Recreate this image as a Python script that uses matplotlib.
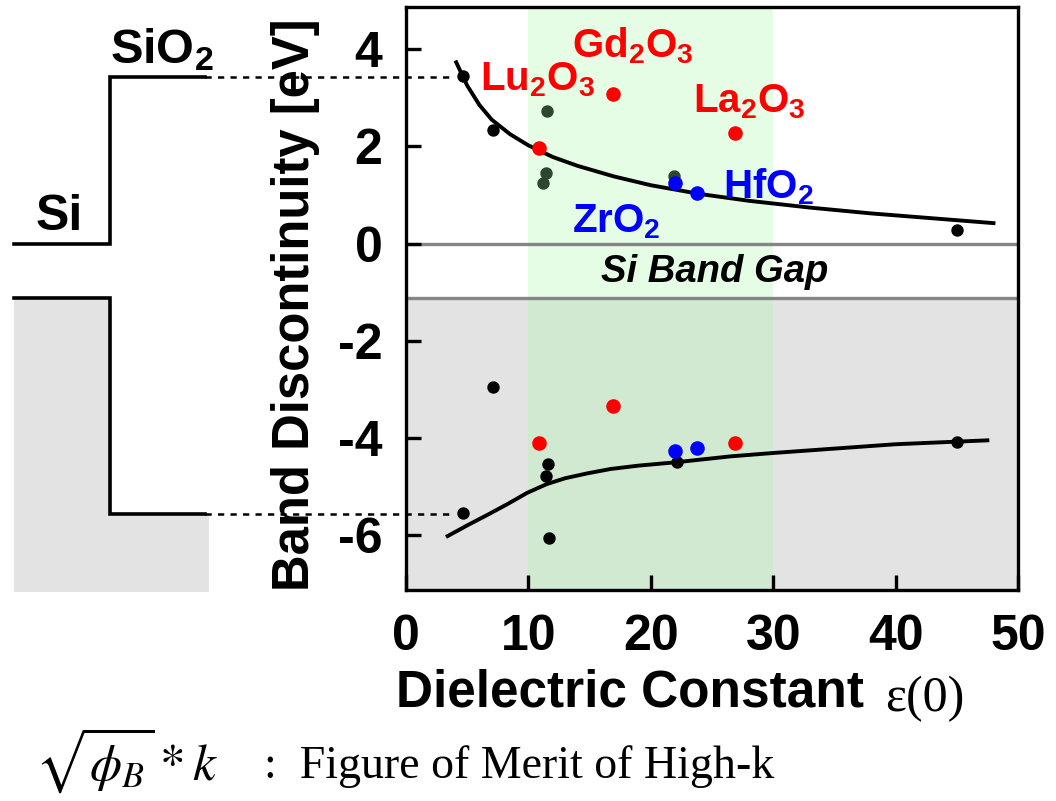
import matplotlib
matplotlib.use("Agg")
import matplotlib.pyplot as plt

plt.rcParams["font.family"] = ["Liberation Sans", "DejaVu Sans"]
plt.rcParams["axes.unicode_minus"] = False
plt.rcParams["mathtext.fontset"] = "custom"
plt.rcParams["mathtext.rm"] = "Liberation Sans:bold"
plt.rcParams["mathtext.it"] = "Liberation Sans:bold:italic"
plt.rcParams["mathtext.bf"] = "Liberation Sans:bold"

# ── data ─────────────────────────────────────────────────────────────────────
# conduction-band offsets
cb_black_eps = [4.66, 7.1, 45.0]
cb_black_off = [3.45, 2.33, 0.28]
cb_dark_eps = [11.5, 11.45, 11.2, 21.9]
cb_dark_off = [2.73, 1.45, 1.24, 1.39]
# valence-band offsets
vb_black_eps = [4.66, 7.1, 11.6, 11.45, 11.7, 22.1, 45.0]
vb_black_off = [-5.55, -2.95, -4.54, -4.78, -6.06, -4.49, -4.09]
# rare-earth oxides (Lu2O3, Gd2O3, La2O3)
red_eps = [10.9, 16.9, 26.9]
red_cb = [1.96, 3.07, 2.27]
red_vb = [-4.11, -3.34, -4.11]
# ZrO2, HfO2
blue_eps = [22.0, 23.8]
blue_cb = [1.25, 1.04]
blue_vb = [-4.27, -4.21]
# guide curves
cb_curve_eps = [4.1, 5.0, 6.0, 7.0, 8.5, 10.0, 12.0, 14.0, 17.0, 20.0, 24.0,
                28.0, 33.0, 38.0, 43.0, 48.0]
cb_curve = [3.73, 3.25, 2.85, 2.55, 2.25, 2.02, 1.78, 1.60, 1.38, 1.20, 1.02,
            0.88, 0.74, 0.62, 0.52, 0.42]
vb_curve_eps = [3.4, 5.0, 6.6, 8.3, 9.9, 11.5, 13.0, 14.8, 16.7, 19.0, 22.1,
                26.5, 30.0, 35.0, 40.0, 47.5]
vb_curve = [-6.02, -5.80, -5.59, -5.36, -5.13, -4.95, -4.83, -4.73, -4.64,
            -4.57, -4.50, -4.38, -4.31, -4.22, -4.13, -4.05]

SI_GAP = 1.12
SIO2_CB, SIO2_VB = 3.42, -5.57
YLIM = (-7.13, 4.87)
B = "bold"

fig = plt.figure(figsize=(10.56, 8.01), dpi=100)
ax = fig.add_axes([0.3845, 0.2634, 0.5795, 0.728])
ax.set_xlim(0, 50)
ax.set_ylim(*YLIM)

# background regions
ax.axhspan(YLIM[0], -SI_GAP, color="#E3E3E3", lw=0, zorder=0)
ax.axvspan(10, 30, color=(0.66, 0.96, 0.66), alpha=0.29, lw=0, zorder=0.5)
ax.axhline(0, color="#858585", lw=2.4, zorder=1)
ax.axhline(-SI_GAP, color="#858585", lw=2.4, zorder=1)
ax.text(25.2, -0.58, "Si Band Gap", fontsize=27.5, style="italic", weight=B,
        ha="center", va="center", zorder=3)

# curves
ax.plot(cb_curve_eps, cb_curve, color="black", lw=2.8, zorder=2)
ax.plot(vb_curve_eps, vb_curve, color="black", lw=2.8, zorder=2)

# points
ax.scatter(cb_black_eps, cb_black_off, s=80, color="black", zorder=3, lw=0)
ax.scatter(cb_dark_eps, cb_dark_off, s=80, color="#2C4630", zorder=3, lw=0)
ax.scatter(vb_black_eps, vb_black_off, s=80, color="black", zorder=3, lw=0)
ax.scatter(red_eps, red_cb, s=110, color="#FF0000", zorder=4, lw=0)
ax.scatter(red_eps, red_vb, s=110, color="#FF0000", zorder=4, lw=0)
ax.scatter(blue_eps, blue_cb, s=110, color="#0000FF", zorder=4, lw=0)
ax.scatter(blue_eps, blue_vb, s=110, color="#0000FF", zorder=4, lw=0)

# material labels
lab = dict(fontsize=29, weight=B, va="baseline", ha="left", zorder=5)
ax.text(6.05, 3.16, "Lu$_2$O$_3$", color="#FF0000", **lab)
ax.text(13.6, 3.84, "Gd$_2$O$_3$", color="#FF0000", **lab)
ax.text(23.45, 2.69, "La$_2$O$_3$", color="#FF0000", **lab)
ax.text(13.56, 0.22, "ZrO$_2$", color="#0000FF", **lab)
ax.text(25.9, 0.92, "HfO$_2$", color="#0000FF", **lab)

# band diagram on the left (same energy scale)
X0, X1, X2, X3 = -32.0, -24.2, -16.4, -16.1
ax.fill_between([X0, X1], YLIM[0] - 0.05, -SI_GAP, color="#E3E3E3", lw=0,
                clip_on=False, zorder=0)
ax.fill_between([X1, X3], YLIM[0] - 0.05, SIO2_VB, color="#E3E3E3", lw=0,
                clip_on=False, zorder=0)
ax.plot([X0, X1, X1, X2], [0, 0, SIO2_CB, SIO2_CB], color="black", lw=2.6,
        clip_on=False, solid_joinstyle="miter")
ax.plot([X0, X1, X1, X2], [-SI_GAP, -SI_GAP, SIO2_VB, SIO2_VB], color="black",
        lw=2.6, clip_on=False, solid_joinstyle="miter")
ax.plot([X2, 4.0], [SIO2_CB, SIO2_CB], color="black", lw=1.8,
        ls=(0, (2.5, 2.5)), clip_on=False, zorder=1)
ax.plot([X2, 4.0], [SIO2_VB, SIO2_VB], color="black", lw=1.8,
        ls=(0, (2.5, 2.5)), clip_on=False, zorder=1)
ax.text(-24.2, 3.71, "SiO$_2$", fontsize=35, weight=B, ha="left", va="baseline")
ax.text(-30.3, 0.28, "Si", fontsize=36, weight=B, ha="left", va="baseline")

# axes styling
for s in ax.spines.values():
    s.set_linewidth(2.4)
    s.set_zorder(6)
ax.set_xticks([0, 10, 20, 30, 40, 50])
ax.set_yticks([-6, -4, -2, 0, 2, 4])
ax.tick_params(direction="in", length=11, width=2.4, labelsize=36, pad=17)
plt.setp(ax.get_xticklabels() + ax.get_yticklabels(), fontweight=B)
ax.set_ylabel("Band Discontinuity [eV]", fontsize=36.5, fontweight=B)
ax.yaxis.set_label_coords(-0.181, 0.49)
ax.yaxis.label.set_va("center")
ax.set_xlabel("Dielectric Constant", fontsize=37, fontweight=B)
ax.xaxis.set_label_coords(0.366, -0.176)
ax.xaxis.label.set_va("center")

fig.text(925 / 1056, 1 - 699 / 801, "ε(0)", fontsize=36, family="Liberation Serif",
         ha="center", va="center")
fig.text(35 / 1056, 1 - 780 / 801, r"$\sqrt{\phi_B}*k$", fontsize=37,
         math_fontfamily="stix", ha="left", va="baseline")
fig.text(264 / 1056, 1 - 778 / 801, ":  Figure of Merit of High-k", fontsize=33,
         family="Liberation Serif", ha="left", va="baseline")

fig.savefig("out.png", dpi=100)
